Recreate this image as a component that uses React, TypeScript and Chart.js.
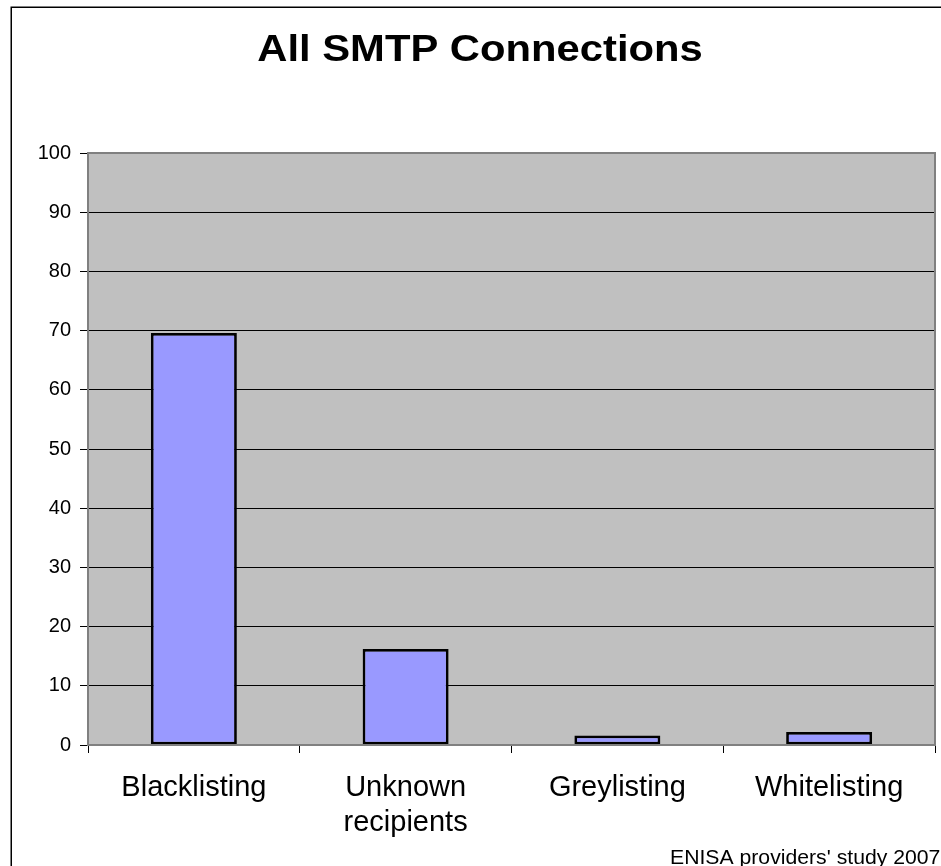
import { useEffect, useRef } from "react";
import { Chart, registerables } from "chart.js";

Chart.register(...registerables);

const categories: (string | string[])[] = [
  "Blacklisting",
  ["Unknown", "recipients"],
  "Greylisting",
  "Whitelisting",
];
const values = [69.6, 16.2, 1.6, 2.2];
const yTicks = [0, 10, 20, 30, 40, 50, 60, 70, 80, 90, 100];
const titleText = "All SMTP Connections";
const footerText = "ENISA providers' study 2007";

const FONT = "'Liberation Sans', Arial, sans-serif";

const decorPlugin = {
  id: "decor",
  beforeDraw(chart: any) {
    const { ctx, chartArea } = chart;
    ctx.save();
    ctx.fillStyle = "#ffffff";
    ctx.fillRect(0, 0, chart.width, chart.height);
    ctx.strokeStyle = "#000000";
    ctx.lineWidth = 1.5;
    ctx.strokeRect(11.25, 7.25, 2000, 2000);
    ctx.fillStyle = "#C0C0C0";
    ctx.fillRect(chartArea.left, chartArea.top, chartArea.right - chartArea.left, chartArea.bottom - chartArea.top);
    ctx.restore();
  },
  afterDraw(chart: any) {
    const { ctx, chartArea } = chart;
    ctx.save();
    ctx.strokeStyle = "#808080";
    ctx.lineWidth = 2;
    ctx.strokeRect(chartArea.left, chartArea.top, chartArea.right - chartArea.left, chartArea.bottom - chartArea.top);
    ctx.fillStyle = "#000000";
    ctx.save();
    ctx.translate(480, 61);
    ctx.scale(1.16, 1);
    ctx.font = `bold 36px ${FONT}`;
    ctx.textAlign = "center";
    ctx.textBaseline = "alphabetic";
    ctx.fillText(titleText, 0, 0);
    ctx.restore();
    ctx.save();
    ctx.translate(670, 864);
    ctx.scale(1.06, 1);
    ctx.font = `20px ${FONT}`;
    ctx.textAlign = "left";
    ctx.textBaseline = "alphabetic";
    ctx.fillText(footerText, 0, 0);
    ctx.restore();
    ctx.restore();
  },
};

export default function App() {
  const ref = useRef<HTMLCanvasElement>(null);
  useEffect(() => {
    if (!ref.current) return;
    const chart = new Chart(ref.current, {
      type: "bar",
      data: {
        labels: categories,
        datasets: [
          {
            data: values,
            backgroundColor: "#9999FF",
            borderColor: "#000000",
            borderWidth: 2.75,
            borderSkipped: false,
            barPercentage: 0.406,
            categoryPercentage: 1,
          },
        ],
      },
      plugins: [decorPlugin],
      options: {
        animation: false,
        responsive: false,
        devicePixelRatio: 1,
        layout: { padding: { top: 153, left: 0, right: 25, bottom: 0 } },
        plugins: {
          legend: { display: false },
          title: { display: false },
          tooltip: { enabled: false },
        },
        scales: {
          x: {
            grid: {
              offset: true,
              drawOnChartArea: false,
              drawTicks: true,
              tickLength: 8,
              color: "#000000",
              lineWidth: 1,
            },
            border: { display: true, color: "#808080", width: 2 },
            ticks: {
              color: "#000000",
              font: { family: FONT, size: 29, lineHeight: 1.2 },
              padding: 18,
              maxRotation: 0,
              autoSkip: false,
            },
            afterFit(scale: any) {
              scale.height = 121;
            },
          },
          y: {
            min: 0,
            max: 100,
            afterBuildTicks(scale: any) {
              scale.ticks = yTicks.map((v) => ({ value: v }));
            },
            grid: {
              color: (c: any) => (c.tick && (c.tick.value === 0 || c.tick.value === 100) ? "#808080" : "#000000"),
              tickColor: "#000000",
              lineWidth: 1,
              tickLength: 8,
            },
            border: { display: true, color: "#808080", width: 2 },
            ticks: {
              color: "#000000",
              font: { family: FONT, size: 20 },
              padding: 9,
            },
            afterFit(scale: any) {
              scale.width = 88;
            },
          },
        },
      },
    });
    return () => chart.destroy();
  }, []);
  return (
    <div style={{ position: "absolute", left: 0, top: 0, width: 941, height: 866, overflow: "hidden", background: "#fff" }}>
      <canvas ref={ref} width={960} height={866} style={{ display: "block", width: 960, height: 866 }} />
    </div>
  );
}
